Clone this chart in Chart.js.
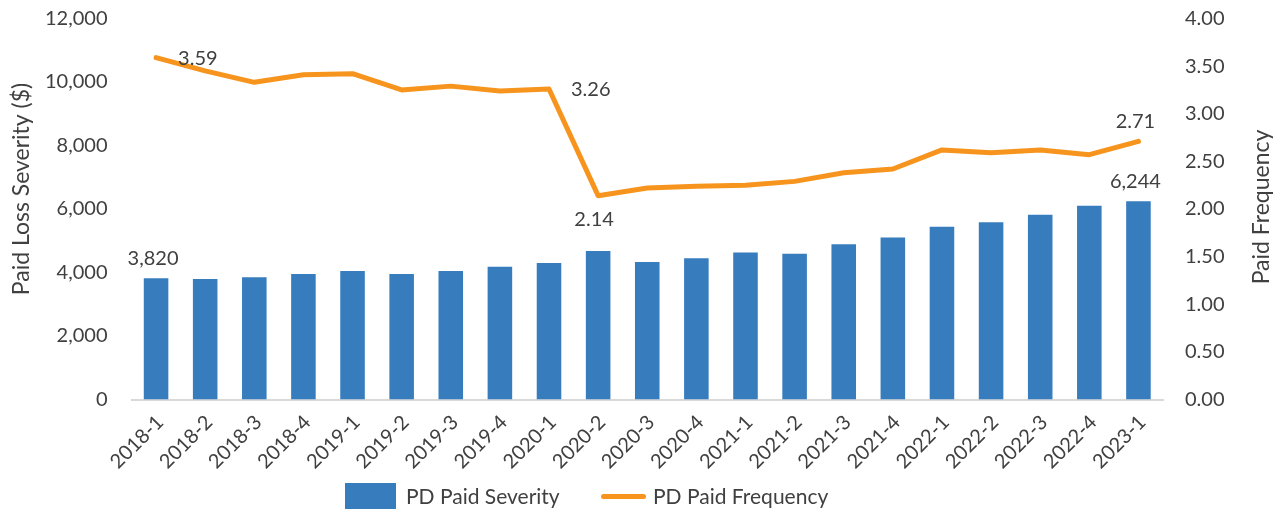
<!DOCTYPE html>
<html>
<head>
<meta charset="utf-8">
<script src="https://cdn.jsdelivr.net/npm/chart.js@4.4.1/dist/chart.umd.min.js"></script>
<style>
  html, body { margin: 0; padding: 0; background: #fff; }
  #wrap { position: relative; width: 1281px; height: 512px; }
  #legend { position: absolute; left: 0; top: 483px; width: 1281px; height: 26px; font-family: Lato, sans-serif; font-size: 21px; color: #404040; }
  .item { position: absolute; top: 0; height: 26px; line-height: 26px; white-space: nowrap; }
  .box { position: absolute; left: 0; top: 0; width: 51px; height: 26px; background: #377dbe; }
  .ln { position: absolute; left: 0; top: 11px; width: 45px; height: 5px; border-radius: 3px; background: #f7941d; }
</style>
</head>
<body>
<div id="wrap">
  <canvas id="chart"></canvas>
  <div id="legend">
    <div class="item" style="left:345px"><span class="box"></span><span style="margin-left:61px">PD Paid Severity</span></div>
    <div class="item" style="left:601px"><span class="ln"></span><span style="margin-left:52px">PD Paid Frequency</span></div>
  </div>
</div>
<script>
// quarters
const quarters = ['2018-1', '2018-2', '2018-3', '2018-4', '2019-1', '2019-2', '2019-3', '2019-4',
  '2020-1', '2020-2', '2020-3', '2020-4', '2021-1', '2021-2', '2021-3', '2021-4',
  '2022-1', '2022-2', '2022-3', '2022-4', '2023-1'];

// PD paid severity ($), left axis
const severity = [3820, 3795, 3850, 3950, 4050, 3950, 4050, 4180, 4300, 4680, 4330, 4450,
  4630, 4590, 4890, 5100, 5440, 5580, 5820, 6100, 6244];

// PD paid frequency, right axis
const frequency = [3.59, 3.45, 3.33, 3.41, 3.42, 3.25, 3.29, 3.24, 3.26, 2.14, 2.22, 2.24,
  2.25, 2.29, 2.38, 2.42, 2.62, 2.59, 2.62, 2.57, 2.71];

// axis ticks
const severityTicks = [0, 2000, 4000, 6000, 8000, 10000, 12000];
const frequencyTicks = [0, 0.5, 1, 1.5, 2, 2.5, 3, 3.5, 4];

const textColor = '#404040';
const fontFamily = 'Lato, sans-serif';

// which points get a value label, and where
const barLabels = [{ i: 0, pos: 'top' }, { i: 20, pos: 'top' }];
const lineLabels = [{ i: 0, pos: 'right' }, { i: 8, pos: 'right' }, { i: 9, pos: 'below' }, { i: 20, pos: 'top' }];

const valueLabels = {
  id: 'valueLabels',
  afterDatasetsDraw(chart) {
    const ctx = chart.ctx;
    ctx.save();
    ctx.font = '20px ' + fontFamily;
    ctx.fillStyle = textColor;
    ctx.textBaseline = 'middle';
    const draw = (meta, list, fmt, data) => {
      list.forEach(l => {
        const el = meta.data[l.i];
        const txt = fmt(data[l.i]);
        if (l.pos === 'right') {
          ctx.textAlign = 'left';
          ctx.fillText(txt, el.x + 22, el.y + 1);
        } else if (l.pos === 'below') {
          ctx.textAlign = 'center';
          ctx.fillText(txt, el.x - 4, el.y + 24);
        } else {
          ctx.textAlign = 'center';
          ctx.fillText(txt, el.x - 3, el.y - 20);
        }
      });
    };
    draw(chart.getDatasetMeta(1), barLabels, v => v.toLocaleString('en-US'), severity);
    draw(chart.getDatasetMeta(0), lineLabels, v => v.toFixed(2), frequency);
    ctx.restore();
  }
};

// axis titles, both read bottom to top
const axisTitles = {
  id: 'axisTitles',
  afterDraw(chart) {
    const ctx = chart.ctx;
    const put = (txt, x, y) => {
      ctx.save();
      ctx.font = '23px ' + fontFamily;
      ctx.fillStyle = textColor;
      ctx.textAlign = 'center';
      ctx.textBaseline = 'middle';
      ctx.translate(x, y);
      ctx.rotate(-Math.PI / 2);
      ctx.fillText(txt, 0, 0);
      ctx.restore();
    };
    put('Paid Loss Severity ($)', 22, 189);
    put('Paid Frequency', 1262, 207);
  }
};

new Chart(document.getElementById('chart'), {
  data: {
    labels: quarters,
    datasets: [
      {
        type: 'line',
        label: 'PD Paid Frequency',
        data: frequency,
        yAxisID: 'y1',
        borderColor: '#f7941d',
        backgroundColor: '#f7941d',
        borderWidth: 5,
        pointRadius: 0,
        tension: 0,
        borderCapStyle: 'round',
        borderJoinStyle: 'round',
        order: 0
      },
      {
        type: 'bar',
        label: 'PD Paid Severity',
        data: severity,
        yAxisID: 'y',
        backgroundColor: '#377dbe',
        borderWidth: 0,
        barPercentage: 0.5,
        categoryPercentage: 1,
        order: 1
      }
    ]
  },
  options: {
    responsive: true,
    maintainAspectRatio: false,
    animation: false,
    layout: { padding: 0 },
    plugins: {
      legend: { display: false },
      tooltip: { enabled: false }
    },
    scales: {
      x: {
        grid: { display: false, drawTicks: false },
        border: { display: true, color: '#d9d9d9', width: 2 },
        ticks: {
          autoSkip: false, minRotation: 45, maxRotation: 45, padding: 11, labelOffset: 4,
          color: textColor, font: { family: fontFamily, size: 20 }
        },
        afterFit(scale) { scale.height = 112.5; }
      },
      y: {
        position: 'left',
        min: 0, max: 12000,
        afterBuildTicks(scale) { scale.ticks = severityTicks.map(v => ({ value: v })); },
        grid: { display: false, drawTicks: false },
        border: { display: false },
        ticks: {
          padding: 24, color: textColor, font: { family: fontFamily, size: 20 },
          callback: v => v.toLocaleString('en-US')
        },
        afterFit(scale) { scale.width = 131.5; scale.paddingTop = 18.5; }
      },
      y1: {
        position: 'right',
        min: 0, max: 4,
        afterBuildTicks(scale) { scale.ticks = frequencyTicks.map(v => ({ value: v })); },
        grid: { display: false, drawTicks: false },
        border: { display: false },
        ticks: {
          padding: 22, color: textColor, font: { family: fontFamily, size: 20 },
          callback: v => v.toFixed(2)
        },
        afterFit(scale) { scale.width = 118; scale.paddingTop = 18.5; }
      }
    }
  },
  plugins: [valueLabels, axisTitles]
});
</script>
</body>
</html>
